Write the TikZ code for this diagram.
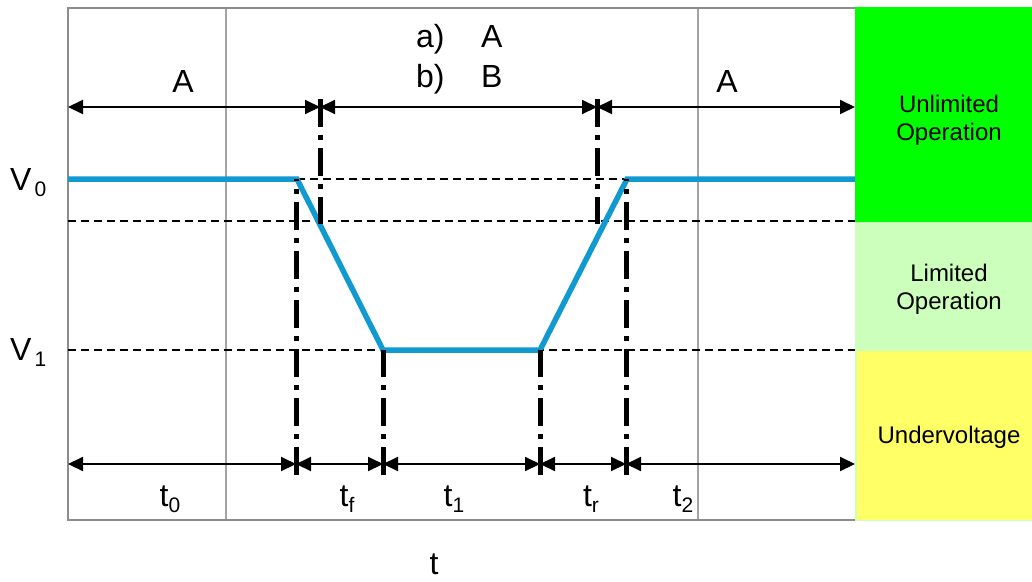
\documentclass[tikz,border=0pt]{standalone}
\usepackage{fontspec}
\setmainfont{Liberation Sans}
\usetikzlibrary{arrows.meta}
\definecolor{sig}{RGB}{17,154,208}
\definecolor{ugreen}{RGB}{0,255,0}
\definecolor{lgreen}{RGB}{204,255,187}
\definecolor{uyellow}{RGB}{255,255,102}
\definecolor{framegray}{RGB}{140,140,140}
\newcommand{\lowsub}[1]{\raisebox{-6pt}{\fontsize{21}{21}\selectfont #1}}
\begin{document}
\begin{tikzpicture}[x=1pt,y=-1pt,
  lbl/.style={font=\fontsize{32}{38}\selectfont, inner sep=0pt, anchor=base},
  band/.style={font=\fontsize{24}{28}\selectfont, align=center, inner sep=0pt},
  dimarrow/.style={line width=2pt, {Triangle[length=15pt,width=14pt]}-{Triangle[length=15pt,width=14pt]}},
  guide/.style={line width=2.5pt, dash pattern=on 8pt off 5pt},
  marker/.style={line width=5pt, dash pattern=on 28pt off 8pt on 5pt off 8pt},
  signal/.style={draw=sig, line width=5.5pt, line join=miter},
  gridline/.style={draw=framegray!80, line width=1.5pt},
  frame/.style={draw=framegray, line width=2pt}]
\useasboundingbox (0,0) rectangle (1032,581);
% frame and grid
\coordinate (fTR) at (855,8);
\coordinate (fTL) at (68,8);
\coordinate (fBL) at (68,520);
\coordinate (fBR) at (855,520);
\coordinate (g1t) at (226,8);
\coordinate (g1b) at (226,520);
\coordinate (g2t) at (698,8);
\coordinate (g2b) at (698,520);
\draw[gridline] (g1t) -- (g1b);
\draw[gridline] (g2t) -- (g2b);
\draw[frame] (fTR) -- (fTL) -- (fBL) -- (fBR);
% bands
\fill[ugreen] (855,7) rectangle (1032,222);
\fill[lgreen] (855,222) rectangle (1032,521);
\fill[uyellow] (856.5,351) rectangle (1032,519.5);
\node[band] (unl) at (949,120) {Unlimited\\Operation};
\node[band] (lim) at (949,289) {Limited\\Operation};
\node[band] (und) at (949,437) {Undervoltage};
% signal points
\coordinate (s0) at (68,179);
\coordinate (s1) at (297,179);
\coordinate (s2) at (383,350);
\coordinate (s3) at (540,350);
\coordinate (s4) at (627,179);
\coordinate (s5) at (855,179);
% guides
\coordinate (h1a) at (68,221);
\coordinate (h1b) at (855,221);
\coordinate (h2a) at (68,350);
\coordinate (h2b) at (855,350);
\draw[guide] (s1) -- (s4);
\draw[guide] (h1a) -- (h1b);
\draw[guide] (h2a) -- (h2b);
% signal
\draw[signal] (s0) -- (s1) -- (s2) -- (s3) -- (s4) -- (s5);
% markers
\coordinate (m1a) at (296,179); \coordinate (m1b) at (296,475);
\coordinate (m2a) at (320,99);  \coordinate (m2b) at (320,224);
\coordinate (m3a) at (383,350); \coordinate (m3b) at (383,475);
\coordinate (m4a) at (540,350); \coordinate (m4b) at (540,475);
\coordinate (m5a) at (597,99);  \coordinate (m5b) at (597,224);
\coordinate (m6a) at (626,179); \coordinate (m6b) at (626,475);
\draw[marker] (m1b) -- (m1a);
\draw[marker] (m2a) -- (m2b);
\draw[marker] (m3b) -- (m3a);
\draw[marker] (m4b) -- (m4a);
\draw[marker] (m5a) -- (m5b);
\draw[marker] (m6b) -- (m6a);
% dimension arrows
\coordinate (L1) at (68,107);  \coordinate (T1) at (320,107);
\coordinate (T2) at (597,107); \coordinate (R1) at (855,107);
\coordinate (L2) at (68,464);  \coordinate (B1) at (296,464);
\coordinate (B2) at (383,464); \coordinate (B3) at (540,464);
\coordinate (B4) at (626,464); \coordinate (R2) at (855,464);
\draw[dimarrow] (L1) -- (T1);
\draw[dimarrow] (T1) -- (T2);
\draw[dimarrow] (T2) -- (R1);
\draw[dimarrow] (L2) -- (B1);
\draw[dimarrow] (B1) -- (B2);
\draw[dimarrow] (B2) -- (B3);
\draw[dimarrow] (B3) -- (B4);
\draw[dimarrow] (B4) -- (R2);
% labels
\node[lbl] (lA1) at (183,92) {A};
\node[lbl] (lA2) at (727,92) {A};
\node[lbl, anchor=base west] (la) at (416,47) {a)};
\node[lbl, anchor=base west] (lAa) at (481,47) {A};
\node[lbl, anchor=base west] (lb) at (416,87) {b)};
\node[lbl, anchor=base west] (lBb) at (481,87) {B};
\node[lbl, anchor=base west] (v0) at (10,190) {V\kern3pt\lowsub{0}};
\node[lbl, anchor=base west] (v1) at (10,360) {V\kern3pt\lowsub{1}};
\node[lbl] (t0) at (170,506) {t\lowsub{0}};
\node[lbl] (tf) at (347,506) {t\lowsub{f}};
\node[lbl] (t1) at (454,506) {t\lowsub{1}};
\node[lbl] (tr) at (591,506) {t\lowsub{r}};
\node[lbl] (t2) at (683,506) {t\lowsub{2}};
\node[lbl] (tax) at (434,574) {t};
\end{tikzpicture}
\end{document}
